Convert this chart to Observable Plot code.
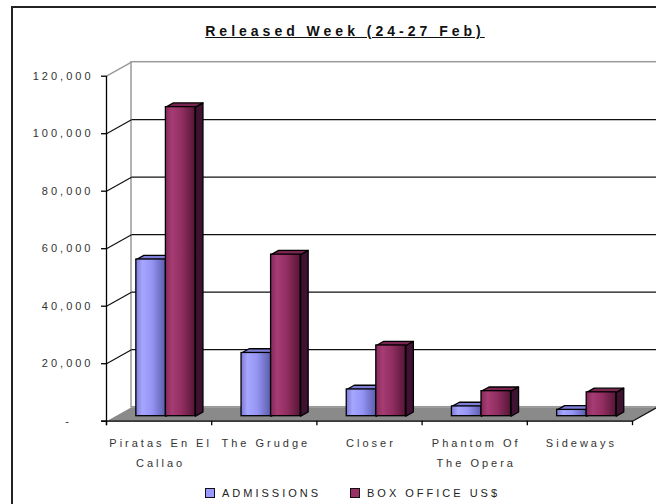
<!DOCTYPE html>
<html>
<head>
<meta charset="utf-8">
<script src="https://cdn.jsdelivr.net/npm/d3@7"></script>
<script src="https://cdn.jsdelivr.net/npm/@observablehq/plot@0.6"></script>
<style>
html,body{margin:0;padding:0;background:#fff;overflow:hidden;}
#wrap{position:relative;width:656px;height:504px;overflow:hidden;background:#fff;font-family:"Liberation Sans",Arial,sans-serif;color:#222;}
#frame{position:absolute;left:11px;top:6px;width:720px;height:620px;border:2px solid #222;box-sizing:border-box;}
#title{position:absolute;left:0;width:690px;top:23px;text-align:center;font-weight:bold;font-size:14px;letter-spacing:4px;text-decoration:underline;color:#111;line-height:17px;}
#chart{position:absolute;left:0;top:50px;}
.item{position:absolute;top:486px;display:flex;align-items:center;font-size:11px;letter-spacing:3px;line-height:14px;}
.sw{width:8px;height:8px;border:1px solid #111;margin-right:7px;}
</style>
</head>
<body>
<div id="wrap">
  <div id="frame"></div>
  <div id="title">Released Week (24-27 Feb)</div>
  <div id="chart"></div>
</div>
<script>
// ---- data ----
const categories = ["Piratas En El\nCallao", "The Grudge", "Closer", "Phantom Of\nThe Opera", "Sideways"];
const admissions = [54500, 22000, 9300, 3400, 2200];
const boxOffice = [107500, 56200, 24600, 8700, 8300];
const seriesNames = ["ADMISSIONS", "BOX OFFICE US$"];
const seriesColors = ["#9999ff", "#993366"];
const yTicks = [0, 20000, 40000, 60000, 80000, 100000, 120000];
const yTickLabels = ["-", "20,000", "40,000", "60,000", "80,000", "100,000", "120,000"];

// ---- layout ----
const width = 656, height = 425;
const mL = 106, mR = 24, mT = 25.7, mB = 54.3;
const yMax = 120000;
const KX = (width - mL - mR) / categories.length;
const KY = (height - mT - mB) / yMax;
const px = p => p / KX, py = p => p / KY;
const WALL = {dx: px(25), dy: py(14)};
const FACE = {dx: px(8.8), dy: py(5)};
const DEPTH = {dx: px(7.5), dy: py(4.2)};
const BAR_OFF = 0.2, BAR_W = 0.281;
const N = categories.length;

const series = [admissions, boxOffice];
const bars = [];
categories.forEach((c, i) => {
  series.forEach((vals, s) => {
    const x1 = i + BAR_OFF + s * BAR_W + FACE.dx;
    const x2 = x1 + BAR_W;
    const y1 = FACE.dy, y2 = vals[i] + FACE.dy;
    bars.push({id: `${i}-${s}`, s, x1, x2, y1, y2});
  });
});
const poly = (b, pts) => pts.map(([x, y]) => ({id: b.id, s: b.s, x, y}));
const tops = bars.flatMap(b => poly(b, [
  [b.x1, b.y2], [b.x2, b.y2], [b.x2 + DEPTH.dx, b.y2 + DEPTH.dy], [b.x1 + DEPTH.dx, b.y2 + DEPTH.dy], [b.x1, b.y2]
]));
const sides = bars.flatMap(b => poly(b, [
  [b.x2, b.y1], [b.x2 + DEPTH.dx, b.y1 + DEPTH.dy], [b.x2 + DEPTH.dx, b.y2 + DEPTH.dy], [b.x2, b.y2], [b.x2, b.y1]
]));
const floor = [[0, 0], [N, 0], [N + WALL.dx, WALL.dy], [WALL.dx, WALL.dy]].map(([x, y]) => ({x, y}));
const inner = yTicks.filter(t => t > 0 && t < yMax);

const topFill = ["#7e7ed8", "#7a2450"];
const sideFill = ["#4d4d96", "#3e1230"];

const chart = Plot.plot({
  width, height,
  marginLeft: mL, marginRight: mR, marginTop: mT, marginBottom: mB,
  x: {domain: [0, N], axis: null},
  y: {domain: [0, yMax], axis: null},
  style: {fontFamily: "Liberation Sans, Arial, sans-serif", fontSize: "11px", letterSpacing: "3px", color: "#222", background: "transparent", overflow: "visible"},
  marks: [
    // back wall
    Plot.rect([0], {x1: WALL.dx, x2: N + WALL.dx, y1: WALL.dy, y2: yMax + WALL.dy, fill: "white", stroke: "#9a9a9a", strokeWidth: 1.5}),
    // back wall gridlines
    Plot.link(inner, {x1: WALL.dx, x2: N + WALL.dx, y1: d => d + WALL.dy, y2: d => d + WALL.dy, stroke: "#111", strokeWidth: 1.2}),
    // left wall diagonals
    Plot.link(inner, {x1: 0, x2: WALL.dx, y1: d => d, y2: d => d + WALL.dy, stroke: "#111", strokeWidth: 1.2}),
    Plot.link([yMax], {x1: 0, x2: WALL.dx, y1: d => d, y2: d => d + WALL.dy, stroke: "#9a9a9a", strokeWidth: 1.5}),
    // floor
    Plot.line(floor, {x: "x", y: "y", fill: "#8a8a8a", stroke: "none"}),
    Plot.link([0], {x1: N, x2: N + WALL.dx, y1: 0, y2: WALL.dy, stroke: "#111", strokeWidth: 1.2}),
    // bars: sides, tops, fronts
    ...[0, 1].map(s => Plot.line(sides, {filter: d => d.s === s, x: "x", y: "y", z: "id", fill: sideFill[s], stroke: "#000", strokeWidth: 1.3, strokeLinejoin: "round"})),
    ...[0, 1].map(s => Plot.line(tops, {filter: d => d.s === s, x: "x", y: "y", z: "id", fill: topFill[s], stroke: "#000", strokeWidth: 1.3, strokeLinejoin: "round"})),
    ...[0, 1].map(s => Plot.rect(bars, {filter: d => d.s === s, x1: "x1", x2: "x2", y1: "y1", y2: "y2", fill: `url(#grad${s})`, stroke: "#000", strokeWidth: 1.3})),
    // baseline & front axis
    Plot.ruleY([0], {x1: -px(5), x2: N, stroke: "#000", strokeWidth: 1.3}),
    Plot.ruleX([0], {y1: -py(4.5), y2: yMax, stroke: "#000", strokeWidth: 1.3}),
    Plot.ruleX(d3.range(N + 1), {y1: -py(4.5), y2: 0, stroke: "#000", strokeWidth: 1.3}),
    Plot.ruleY(yTicks, {x1: -px(5), x2: 0, stroke: "#000", strokeWidth: 1.3}),
    // tick labels
    Plot.text(yTicks, {filter: d => d > 0, x: 0, y: d => d, dx: -13, textAnchor: "end", text: d => yTickLabels[yTicks.indexOf(d)], fill: "#333"}),
    Plot.text(yTicks, {filter: d => d === 0, x: 0, y: d => d, dx: -38, textAnchor: "middle", text: d => yTickLabels[yTicks.indexOf(d)], fill: "#333"}),
    // category labels
    Plot.text(categories, {x: (d, i) => i + 0.5, y: 0, dy: 12, dx: 1.5, text: d => d, lineAnchor: "top", lineHeight: 1.8, fill: "#333"})
  ]
});

// gradients for cylinder-like shading of the front faces
const NS = "http://www.w3.org/2000/svg";
const defs = document.createElementNS(NS, "defs");
const gradStops = [
  [[0, "#7c7cd6"], [0.22, "#a6a6ff"], [0.55, "#9494f4"], [1, "#5c5cac"]],
  [[0, "#86285a"], [0.22, "#a63c73"], [0.55, "#922e62"], [1, "#561636"]]
];
gradStops.forEach((stops, s) => {
  const g = document.createElementNS(NS, "linearGradient");
  g.setAttribute("id", `grad${s}`);
  g.setAttribute("x1", "0"); g.setAttribute("x2", "1"); g.setAttribute("y1", "0"); g.setAttribute("y2", "0");
  stops.forEach(([o, c]) => {
    const st = document.createElementNS(NS, "stop");
    st.setAttribute("offset", o);
    st.setAttribute("stop-color", c);
    g.appendChild(st);
  });
  defs.appendChild(g);
});
chart.insertBefore(defs, chart.firstChild);
document.getElementById("chart").appendChild(chart);

// legend
const wrap = document.getElementById("wrap");
const legendX = [205, 350];
seriesNames.forEach((name, s) => {
  const item = document.createElement("div");
  item.className = "item";
  item.style.left = legendX[s] + "px";
  const sw = document.createElement("div");
  sw.className = "sw";
  sw.style.background = seriesColors[s];
  const t = document.createElement("span");
  t.textContent = name;
  item.appendChild(sw); item.appendChild(t);
  wrap.appendChild(item);
});
</script>
</body>
</html>
